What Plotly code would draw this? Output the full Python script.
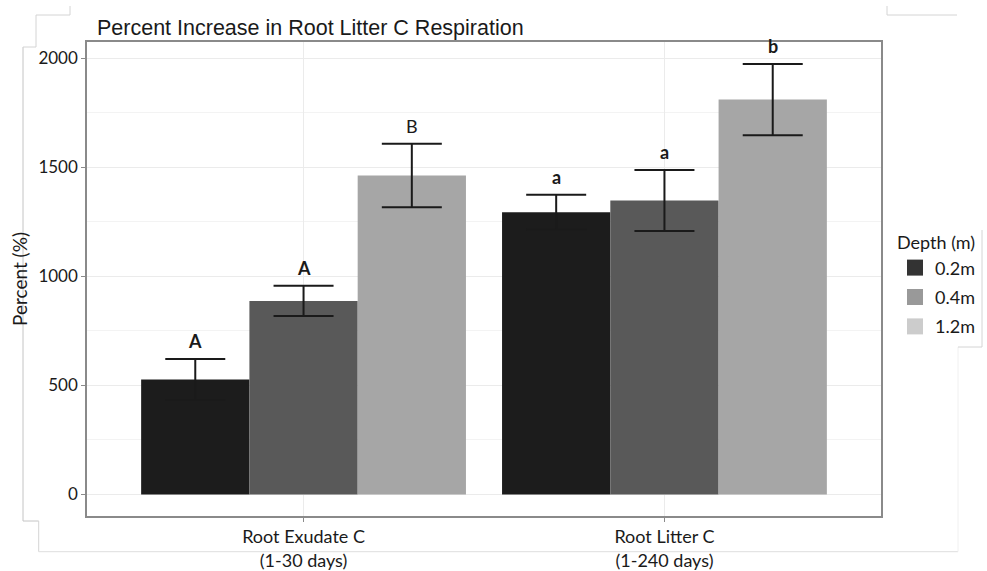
import plotly.graph_objects as go

categories = ["Root Exudate C<br>(1-30 days)", "Root Litter C<br>(1-240 days)"]
depths = ["0.2m", "0.4m", "1.2m"]
means = {
    "0.2m": [527, 1294],
    "0.4m": [887, 1347],
    "1.2m": [1462, 1810],
}
errors = {
    "0.2m": [94, 80],
    "0.4m": [69, 140],
    "1.2m": [145, 163],
}
letters = {
    "0.2m": ["A", "a"],
    "0.4m": ["A", "a"],
    "1.2m": ["B", "b"],
}
letter_bold = {
    "0.2m": [True, True],
    "0.4m": [True, True],
    "1.2m": [False, True],
}
bar_colors = {"0.2m": "#1c1c1c", "0.4m": "#595959", "1.2m": "#a6a6a6"}
legend_colors = {"0.2m": "#333333", "0.4m": "#999999", "1.2m": "#cccccc"}

W, H = 987, 571
L, R, T, B = 87, 881, 42, 516

def px(xp):
    return (xp - L) / (R - L)

def py(yp):
    return (B - yp) / (B - T)

fig = go.Figure()
offsets = {"0.2m": -0.3, "0.4m": 0.0, "1.2m": 0.3}

for d in depths:
    fig.add_trace(go.Bar(
        x=categories, y=means[d], name=d,
        marker=dict(color=bar_colors[d], line=dict(width=0)),
        error_y=dict(type="data", array=errors[d], color="#1a1a1a",
                     thickness=2, width=30),
        showlegend=False,
    ))
    # legend entries
    fig.add_trace(go.Scatter(
        x=[None], y=[None], mode="markers", name=d, legendgroup=d,
        marker=dict(symbol="square", size=16, color=legend_colors[d]),
        showlegend=True,
    ))

annotations = []
for d in depths:
    for i, cat in enumerate(categories):
        txt = letters[d][i]
        if letter_bold[d][i]:
            txt = "<b>" + txt + "</b>"
        annotations.append(dict(
            x=i + offsets[d], y=means[d][i] + errors[d][i], xref="x", yref="y",
            text=txt, showarrow=False, yanchor="bottom", yshift=5,
            font=dict(family="Lato", size=18, color="#1a1a1a"),
        ))

shapes = []
def seg(x0, y0, x1, y1, color="#d4d4d4"):
    shapes.append(dict(type="line", xref="paper", yref="paper",
                       x0=px(x0), y0=py(y0), x1=px(x1), y1=py(y1),
                       line=dict(color=color, width=1), layer="above"))

seg(23, 47, 23, 521, "#c4c4c4")
seg(23, 47, 36, 47)
seg(36, 47, 36, 15)
seg(36, 15, 70, 15)
seg(70, 15, 70, 6)
seg(23, 521, 38.7, 521, "#c4c4c4")
seg(38.7, 521, 38.7, 551.7)
seg(38.7, 551.7, 958, 551.7, "#dedede")
seg(958, 551.7, 958, 347, "#f0f0f0")
seg(958, 347, 982, 347)
seg(982, 347, 982, 230)
seg(887, 15, 957, 15)
seg(887, 15, 887, 6)

fig.update_layout(
    width=W, height=H,
    margin=dict(l=L, r=W - R, t=T, b=H - B, autoexpand=False),
    paper_bgcolor="white", plot_bgcolor="white",
    barmode="group", bargap=0.1, bargroupgap=0,
    font=dict(family="Lato", color="#1a1a1a"),
    title=dict(text="Percent Increase in Root Litter C Respiration",
               x=px(97), xref="paper", xanchor="left",
               y=1 - 27 / H, yref="container", yanchor="middle",
               font=dict(family="Liberation Sans", size=21.5, color="#1a1a1a")),
    legend=dict(title=dict(text="Depth (m)", font=dict(family="Lato", size=18)),
                font=dict(family="Lato", size=18, color="#1a1a1a"),
                x=px(895), xanchor="left", y=py(226), yanchor="top",
                bgcolor="rgba(0,0,0,0)", tracegroupgap=3, itemsizing="trace"),
    annotations=annotations,
    shapes=shapes,
)

fig.update_xaxes(
    type="category", range=[-0.6, 1.6], automargin=False,
    showgrid=True, gridcolor="#ebebeb", gridwidth=1,
    showline=True, linecolor="#8a8a8a", linewidth=1.5, mirror=True,
    ticks="outside", ticklen=4, tickcolor="#8a8a8a",
    tickfont=dict(family="Lato", size=18, color="#1a1a1a"),
    zeroline=False,
)
fig.update_yaxes(
    range=[-99, 2074], automargin=False,
    tickvals=[0, 500, 1000, 1500, 2000],
    showgrid=True, gridcolor="#ebebeb", gridwidth=1,
    minor=dict(tickvals=[250, 750, 1250, 1750], showgrid=True,
               gridcolor="#f3f3f3", gridwidth=0.8),
    showline=True, linecolor="#8a8a8a", linewidth=1.5, mirror=True,
    ticks="outside", ticklen=4, tickcolor="#8a8a8a",
    tickfont=dict(family="Lato", size=17, color="#1a1a1a"),
    title=dict(text="Percent (%)", standoff=6,
               font=dict(family="Lato", size=19, color="#1a1a1a")),
    zeroline=False,
)

fig.write_html("out.html")
